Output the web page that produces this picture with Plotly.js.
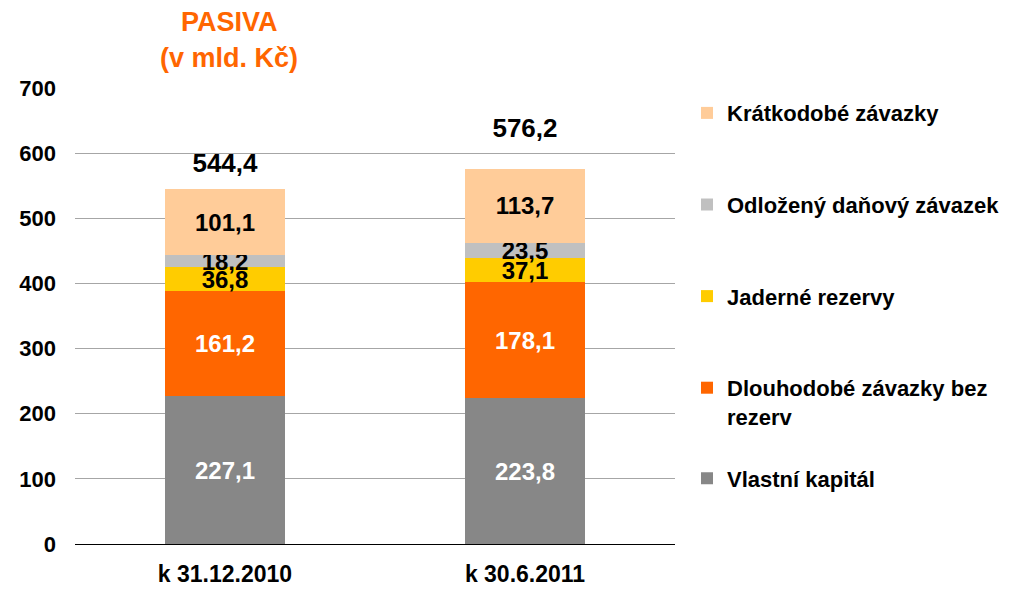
<!DOCTYPE html>
<html>
<head>
<meta charset="utf-8">
<script src="https://cdn.plot.ly/plotly-3.0.1.min.js"></script>
<style>html,body{margin:0;padding:0;background:#fff;}#chart{width:1009px;height:589px;}</style>
</head>
<body>
<div id="chart"></div>
<script>
const categories = ['k 31.12.2010', 'k 30.6.2011'];
const seriesNames = ['Vlastní kapitál', 'Dlouhodobé závazky bez<br>rezerv', 'Jaderné rezervy', 'Odložený daňový závazek', 'Krátkodobé závazky'];
const vlastniKapital = [227.1, 223.8];
const dlouhodobeZavazky = [161.2, 178.1];
const jaderneRezervy = [36.8, 37.1];
const odlozenyZavazek = [18.2, 23.5];
const kratkodobeZavazky = [101.1, 113.7];
const totals = [544.4, 576.2];
const yTicks = [0, 100, 200, 300, 400, 500, 600, 700];

const FONT = 'Liberation Sans, Arial, sans-serif';
const colors = ['#878787', '#FF6600', '#FFCC00', '#C0C0C0', '#FFCC99'];
const textColors = ['#FFFFFF', '#FFFFFF', '#000000', '#000000', '#000000'];
const seriesValues = [vlastniKapital, dlouhodobeZavazky, jaderneRezervy, odlozenyZavazek, kratkodobeZavazky];

const data = seriesValues.map((vals, i) => ({
  type: 'bar',
  name: seriesNames[i],
  x: categories,
  y: vals,
  marker: {color: colors[i], line: {width: 0}},
  texttemplate: '%{y:.1f}',
  textposition: 'inside',
  insidetextanchor: 'middle',
  textangle: 0,
  constraintext: 'none',
  cliponaxis: false,
  textfont: {family: FONT, size: 24, color: textColors[i], weight: 'bold'},
  legendgroup: 'g' + i,
  legendrank: 10 - i,
  legend: i === 0 ? 'legend2' : 'legend',
  hoverinfo: 'skip'
}));

data.push({
  type: 'scatter',
  mode: 'markers+text',
  x: categories,
  y: totals,
  marker: {size: [16, 38], opacity: 0},
  texttemplate: '%{y:.1f}',
  textposition: 'top center',
  textfont: {family: FONT, size: 26, color: '#000000', weight: 'bold'},
  showlegend: false,
  cliponaxis: false,
  hoverinfo: 'skip'
});

const layout = {
  width: 1009,
  height: 589,
  margin: {l: 75, r: 334, t: 88, b: 45, autoexpand: false},
  paper_bgcolor: '#FFFFFF',
  plot_bgcolor: '#FFFFFF',
  separators: ', ',
  barmode: 'stack',
  bargap: 0.6,
  showlegend: true,
  font: {family: FONT, color: '#000000'},
  xaxis: {
    type: 'category',
    showgrid: false,
    showline: true,
    linecolor: '#000000',
    linewidth: 1,
    ticks: '',
    tickfont: {family: FONT, size: 23, weight: 'bold', color: '#000000'},
    ticklabelstandoff: 9
  },
  yaxis: {
    range: [0, 700],
    tickvals: yTicks,
    showgrid: true,
    gridcolor: '#A6A6A6',
    gridwidth: 1,
    zeroline: false,
    showline: false,
    ticks: '',
    tickfont: {family: FONT, size: 22, weight: 'bold', color: '#000000'},
    ticklabelstandoff: 18
  },
  legend: {
    x: 1.02, xanchor: 'left',
    y: 0.991, yanchor: 'top',
    traceorder: 'grouped',
    tracegroupgap: 60,
    valign: 'top',
    bgcolor: 'rgba(0,0,0,0)',
    font: {family: FONT, size: 22, weight: 'bold', color: '#000000'}
  },
  legend2: {
    x: 1.02, xanchor: 'left',
    y: 0.19, yanchor: 'top',
    valign: 'top',
    bgcolor: 'rgba(0,0,0,0)',
    font: {family: FONT, size: 22, weight: 'bold', color: '#000000'}
  },
  annotations: [
    {xref: 'paper', yref: 'paper', x: 0.257, y: 1, yshift: 66, xanchor: 'center', yanchor: 'middle', showarrow: false,
     text: 'PASIVA', font: {family: FONT, size: 27, weight: 'bold', color: '#FF6600'}},
    {xref: 'paper', yref: 'paper', x: 0.257, y: 1, yshift: 30, xanchor: 'center', yanchor: 'middle', showarrow: false,
     text: '(v mld. Kč)', font: {family: FONT, size: 27, weight: 'bold', color: '#FF6600'}}
  ]
};

Plotly.newPlot('chart', data, layout, {displayModeBar: false, staticPlot: true});
</script>
</body>
</html>
